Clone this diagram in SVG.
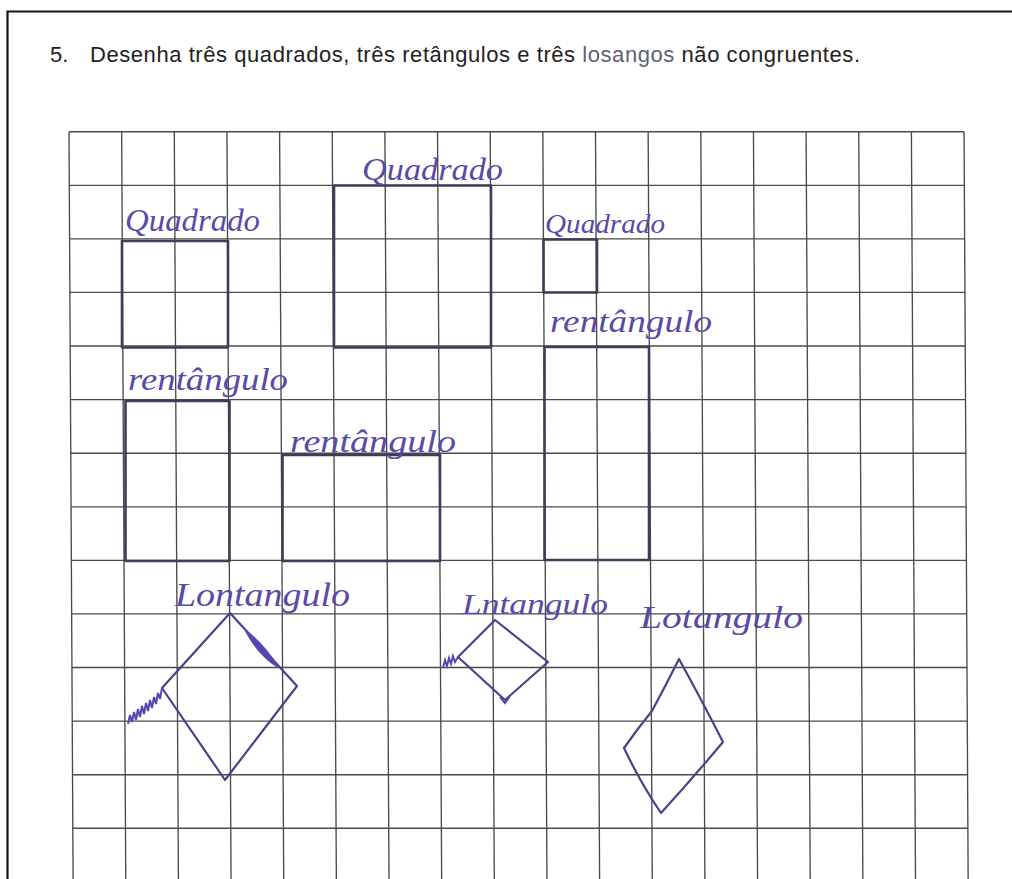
<svg xmlns="http://www.w3.org/2000/svg" width="1012" height="879" viewBox="0 0 1012 879">
<style>
.grid line{stroke:#4a4a4a;stroke-width:1.35}
.border{stroke:#141414;stroke-width:2.2;fill:none}
.title{font-family:"Liberation Sans",Arial,sans-serif;font-size:22px;fill:#222222}
.hand{font-family:"Liberation Serif","DejaVu Serif",serif;font-style:italic;fill:#5a49a6}
.sq{fill:none;stroke:#433b58;stroke-width:2.6;stroke-linejoin:round}
.dm{fill:none;stroke:#4e4088;stroke-width:2.2;stroke-linejoin:round}
.hatch{fill:none;stroke:#5a45b0;stroke-width:2}
</style>
<rect width="1012" height="879" fill="#ffffff"/>
<path class="border" d="M7.5,879 V11.5 H1012"/>
<text class="title" x="50" y="62">5.</text>
<text class="title" x="90" y="62" textLength="770">Desenha três quadrados, três retângulos e três <tspan fill="#5f5f78">losangos</tspan> não congruentes.</text>
<g class="grid">
<line x1="69" y1="131.7" x2="73.1" y2="879"/>
<line x1="121.65" y1="131.7" x2="125.75" y2="879"/>
<line x1="174.3" y1="131.7" x2="178.4" y2="879"/>
<line x1="226.95" y1="131.7" x2="231.05" y2="879"/>
<line x1="279.6" y1="131.7" x2="283.7" y2="879"/>
<line x1="332.25" y1="131.7" x2="336.35" y2="879"/>
<line x1="384.9" y1="131.7" x2="389" y2="879"/>
<line x1="437.55" y1="131.7" x2="441.65" y2="879"/>
<line x1="490.2" y1="131.7" x2="494.3" y2="879"/>
<line x1="542.85" y1="131.7" x2="546.95" y2="879"/>
<line x1="595.5" y1="131.7" x2="599.6" y2="879"/>
<line x1="648.15" y1="131.7" x2="652.25" y2="879"/>
<line x1="700.8" y1="131.7" x2="704.9" y2="879"/>
<line x1="753.45" y1="131.7" x2="757.55" y2="879"/>
<line x1="806.1" y1="131.7" x2="810.2" y2="879"/>
<line x1="858.75" y1="131.7" x2="862.85" y2="879"/>
<line x1="911.4" y1="131.7" x2="915.5" y2="879"/>
<line x1="964.05" y1="131.7" x2="968.15" y2="879"/>
<line x1="69" y1="131.7" x2="964" y2="131.7"/>
<line x1="69.3" y1="185.3" x2="964.3" y2="185.3"/>
<line x1="69.6" y1="238.9" x2="964.6" y2="238.9"/>
<line x1="69.9" y1="292.4" x2="964.9" y2="292.4"/>
<line x1="70.2" y1="346" x2="965.2" y2="346"/>
<line x1="70.5" y1="399.6" x2="965.5" y2="399.6"/>
<line x1="70.8" y1="453.2" x2="965.8" y2="453.2"/>
<line x1="71.1" y1="506.8" x2="966.1" y2="506.8"/>
<line x1="71.4" y1="560.3" x2="966.4" y2="560.3"/>
<line x1="71.7" y1="613.9" x2="966.7" y2="613.9"/>
<line x1="72" y1="667.5" x2="967" y2="667.5"/>
<line x1="72.2" y1="721.1" x2="967.2" y2="721.1"/>
<line x1="72.5" y1="774.7" x2="967.5" y2="774.7"/>
<line x1="72.8" y1="828.2" x2="967.8" y2="828.2"/>
</g>
<g id="connectors"/>
<g id="square-1">
<rect class="sq" x="122" y="241" width="106" height="106.5"/>
<text class="hand" x="125" y="231" font-size="31" textLength="135" lengthAdjust="spacingAndGlyphs">Quadrado</text>
</g>
<g id="square-2">
<rect class="sq" x="334" y="185.5" width="157" height="162"/>
<text class="hand" x="362" y="180" font-size="31" textLength="141" lengthAdjust="spacingAndGlyphs">Quadrado</text>
</g>
<g id="square-3">
<rect class="sq" x="543.5" y="239.5" width="53.5" height="53"/>
<text class="hand" x="545" y="233" font-size="28" textLength="120" lengthAdjust="spacingAndGlyphs">Quadrado</text>
</g>
<g id="rectangle-1">
<rect class="sq" x="125.5" y="401" width="104" height="160"/>
<text class="hand" x="128" y="390" font-size="31" textLength="160" lengthAdjust="spacingAndGlyphs">rentângulo</text>
</g>
<g id="rectangle-2">
<rect class="sq" x="282.5" y="455" width="157.5" height="106"/>
<text class="hand" x="290" y="452" font-size="31" textLength="166" lengthAdjust="spacingAndGlyphs">rentângulo</text>
</g>
<g id="rectangle-3">
<rect class="sq" x="544.5" y="347" width="104.5" height="213"/>
<text class="hand" x="550" y="332" font-size="31" textLength="162" lengthAdjust="spacingAndGlyphs">rentângulo</text>
</g>
<g id="rhombus-1">
<path class="dm" d="M230,613 L297,686 L225,780 L162,688 Z"/>
<path d="M246,631 Q264,645 278,667 Q258,654 246,631 Z" fill="#5a45b0" stroke="#5a45b0" stroke-width="2"/>
<path class="hatch" d="M128,724 L130,715 L132,722 L134,712 L136,720 L138,709 L140,717 L142,706 L144,714 L146,703 L148,711 L150,700 L152,708 L154,697 L156,704 L158,693 L160,699 L162,688"/>
<text class="hand" x="175" y="606" font-size="33" textLength="175" lengthAdjust="spacingAndGlyphs">Lontangulo</text>
</g>
<g id="rhombus-2">
<path class="dm" d="M495,620 L548,662 L505,700 L458,657 Z"/>
<path class="hatch" d="M443,668 L445,660 L447,666 L449,658 L451,664 L453,656 L455,662 L458,657"/>
<path class="hatch" d="M500,697 L505,703 L510,696"/>
<text class="hand" x="462" y="614" font-size="29" textLength="146" lengthAdjust="spacingAndGlyphs">Lntangulo</text>
</g>
<g id="rhombus-3">
<path class="dm" d="M679,659 Q700,697 723,742 Q692,779 661,813 Q640,782 624,748 Q638,728 652,711 Q666,685 679,659 Z"/>
<text class="hand" x="640" y="628" font-size="31" textLength="163" lengthAdjust="spacingAndGlyphs">Lotangulo</text>
</g>
</svg>
